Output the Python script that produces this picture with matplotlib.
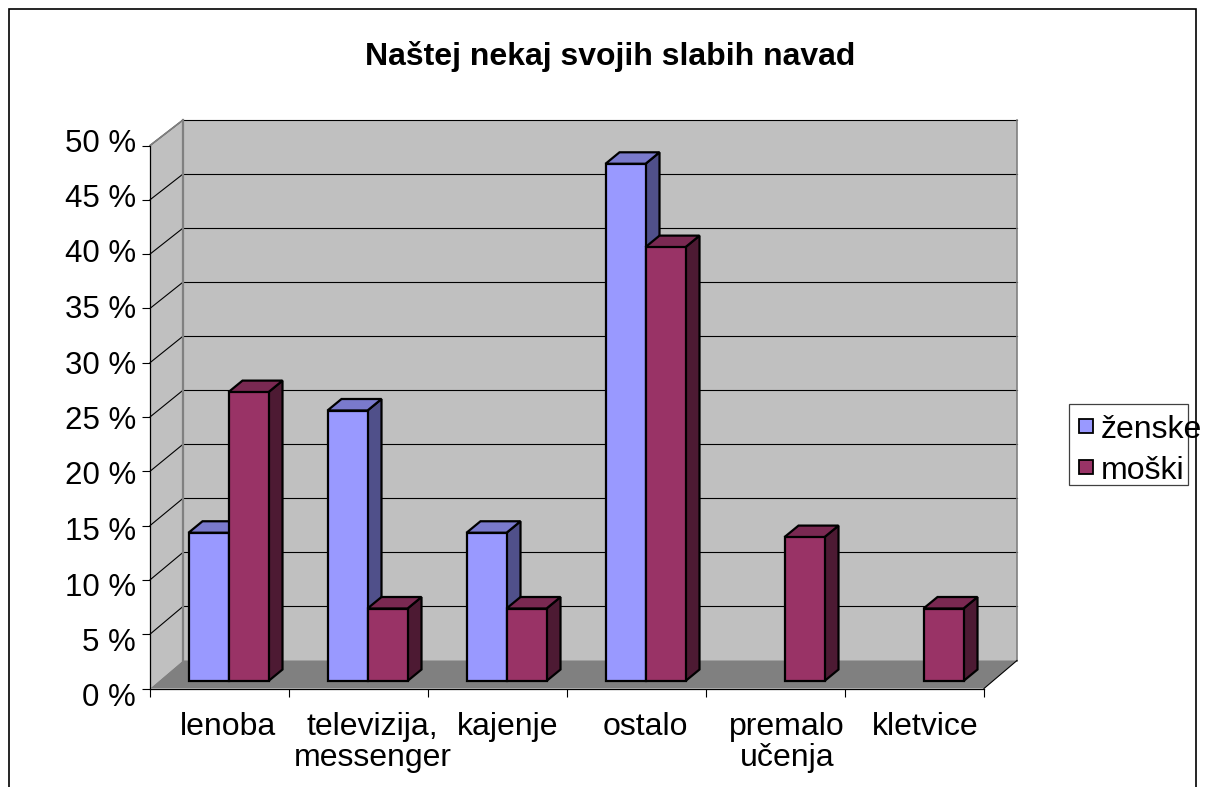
import matplotlib
matplotlib.use("Agg")
import matplotlib.pyplot as plt
from matplotlib.patches import Polygon, Rectangle
from matplotlib.lines import Line2D
from matplotlib.transforms import IdentityTransform, Affine2D

plt.rcParams['font.family'] = ['Liberation Sans', 'DejaVu Sans']

title = "Naštej nekaj svojih slabih navad"
categories = ["lenoba", "televizija,\nmessenger", "kajenje", "ostalo", "premalo\nučenja", "kletvice"]
zenske = [13.7, 25.0, 13.7, 47.8, 0, 0]
moski = [26.7, 6.7, 6.7, 40.1, 13.3, 6.7]
yticks = [0, 5, 10, 15, 20, 25, 30, 35, 40, 45, 50]
ylabels = [f"{v} %" for v in yticks]
series = ["ženske", "moški"]

W, H = 1209, 787
fig = plt.figure(figsize=(W / 100, H / 100), dpi=100, facecolor="white")


def make_axes(x0, x1, ybot, ytop, z):
    ax = fig.add_axes([x0 / W, 1 - ybot / H, (x1 - x0) / W, (ybot - ytop) / H], zorder=z)
    ax.set_xlim(0, 6)
    ax.set_ylim(0, 50)
    ax.patch.set_alpha(0)
    for s in ax.spines.values():
        s.set_visible(False)
    ax.set_xticks([])
    ax.set_yticks([])
    return ax


ax_wall = make_axes(183, 1017, 660.5, 120, 1)
ax_front = make_axes(150, 984, 688.5, 145.5, 2)
ax_labels = make_axes(150, 984, 695, 140, 2)
ax_bars = make_axes(159, 993, 681, 140, 3)

GRAY = "#808080"
WALL = "#C0C0C0"
px = IdentityTransform()


def corner(ax, x, y):
    return ax.transData.transform((x, y))


def poly(ax, pts, fc, ec="none", lw=0.0, z=1):
    ax.add_patch(Polygon(pts, closed=True, facecolor=fc, edgecolor=ec, linewidth=lw,
                         transform=px, clip_on=False, zorder=z, joinstyle="miter"))


def line(ax, a, b, color="black", lw=0.8, z=3):
    ax.add_line(Line2D([a[0], b[0]], [a[1], b[1]], color=color, linewidth=lw,
                       transform=px, clip_on=False, zorder=z))


# back wall, side wall and floor
wl0, wl1 = corner(ax_wall, 0, 0), corner(ax_wall, 0, 50)
wr0, wr1 = corner(ax_wall, 6, 0), corner(ax_wall, 6, 50)
fl0, fl1 = corner(ax_front, 0, 0), corner(ax_front, 0, 50)
fr0 = corner(ax_front, 6, 0)
poly(ax_wall, [wl0, wr0, wr1, wl1], WALL)
poly(ax_wall, [fl0, wl0, wl1, fl1], WALL)
poly(ax_wall, [fl0, fr0, wr0, wl0], GRAY, z=2)

for v in yticks[1:]:
    line(ax_wall, corner(ax_front, 0, v), corner(ax_wall, 0, v), lw=0.8)
    line(ax_wall, corner(ax_wall, 0, v), corner(ax_wall, 6, v), lw=0.8)
line(ax_wall, wl0, wl1, GRAY, 1.6, 4)
line(ax_wall, wr0, wr1, GRAY, 1.2, 4)
line(ax_wall, fl1, wl1, GRAY, 1.2, 4)
line(ax_wall, fr0, wr0, "black", 0.8, 4)

# front axes and tick marks
ax_front.spines["left"].set_visible(True)
ax_front.spines["bottom"].set_visible(True)
ax_front.spines["left"].set_linewidth(0.9)
ax_front.spines["bottom"].set_linewidth(0.9)
ax_front.set_yticks(yticks)
ax_front.set_xticks(range(7))
ax_front.set_xticklabels([])
ax_front.set_yticklabels([])
ax_front.tick_params(axis="both", length=6, width=0.8, color="black")

ax_labels.set_yticks(yticks)
ax_labels.set_yticklabels(ylabels, fontsize=22.5)
ax_labels.tick_params(axis="y", length=0, pad=10)

centers = [i + 0.5 for i in range(len(categories))]
ax_bars.set_xticks(centers)
ax_bars.set_xticklabels(categories, fontsize=23, linespacing=1.08)
ax_bars.tick_params(axis="x", length=0, pad=22)
for label, shift in zip(ax_bars.get_xticklabels(), (0, 5, 1.5, 0, 2.5, 1.5)):
    label.set_transform(label.get_transform() + Affine2D().translate(shift, 0))

# bars
BAR_W = 40 / 139
DX, DY = 14, 11.5
EDGE = 1.6
styles = {
    "f": ("#9999FF", "#7A7ACC", "#50508A"),
    "m": ("#993366", "#7A2952", "#4D1A33"),
}


def bar3d(x0, v, key):
    if v <= 0:
        return
    front, top, side = styles[key]
    a = corner(ax_bars, x0, v)
    b = corner(ax_bars, x0 + BAR_W, v)
    c = corner(ax_bars, x0 + BAR_W, 0)
    d = (DX, DY)
    poly(ax_bars, [b, c, c + d, b + d], side, "black", EDGE, 5)
    poly(ax_bars, [a, b, b + d, a + d], top, "black", EDGE, 5)
    ax_bars.bar(x0, v, width=BAR_W, align="edge", color=front, edgecolor="black",
                linewidth=EDGE, zorder=5, clip_on=False)


for i, c in enumerate(centers):
    bar3d(c - BAR_W, zenske[i], "f")
    bar3d(c, moski[i], "m")

# frame
canvas = fig.add_axes([0, 0, 1, 1], zorder=4)
canvas.set_xlim(0, W)
canvas.set_ylim(H, 0)
canvas.axis("off")
canvas.plot([8.5, 8.5, 1196, 1196], [H, 9, 9, H], color="black", lw=1.2, solid_joinstyle="miter")

canvas.text(610, 57, title, fontsize=23, fontweight="bold", ha="center", va="center")

# legend
canvas.add_patch(Rectangle((1069, 403.5), 119, 81.5, facecolor="white", edgecolor="#404040", lw=0.9, zorder=1))
for (y, name, color) in zip((426, 467), series, ("#9999FF", "#993366")):
    canvas.add_patch(Rectangle((1078.5, y - 7), 14, 14, facecolor=color, edgecolor="black", lw=1.3, zorder=2))
    canvas.text(1101, y + 4, name, fontsize=23, ha="left", va="center", zorder=3)

fig.savefig("out.png", dpi=100)
